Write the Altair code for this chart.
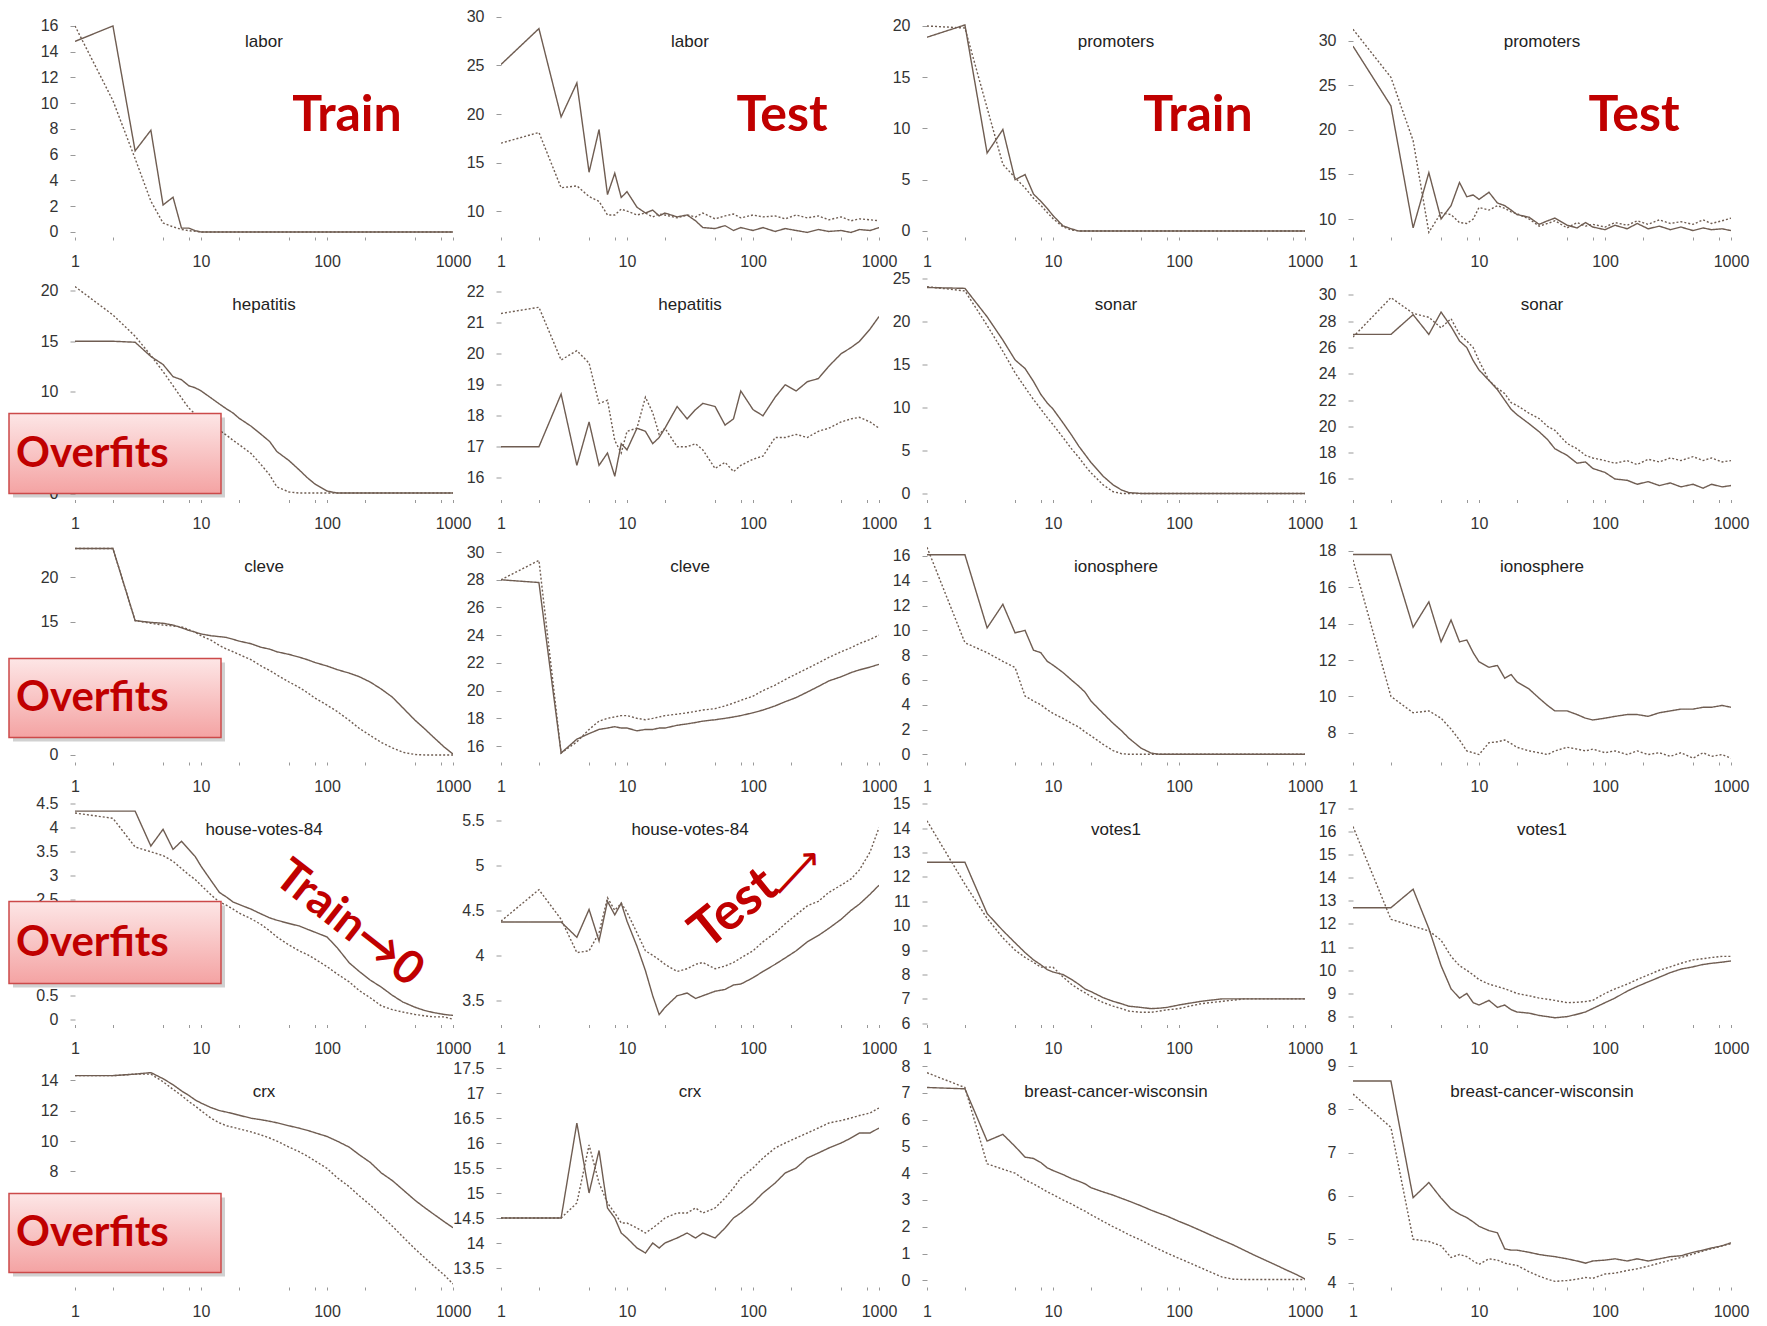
import altair as alt
import pandas as pd

# ---------------- data ----------------
X = [1, 2, 3, 4, 5, 6, 7, 8, 9, 10, 12, 14, 16, 18, 20, 25, 30, 35, 40, 50, 60, 70, 80,
     100, 120, 150, 180, 220, 270, 330, 400, 500, 600, 700, 850, 1000]
X_TICKS = [1, 2, 5, 8, 10, 20, 50, 80, 100, 200, 500, 800, 1000]

Z21 = [0] * 21

LABOR_TRAIN_A = [14.8, 16.0, 6.3, 7.9, 2.1, 2.7, 0.3, 0.3, 0.1, 0] + [0] * 26
LABOR_TRAIN_B = [16.0, 10.2, 5.7, 2.4, 0.7, 0.4, 0.2, 0.1, 0.05, 0] + [0] * 26
LABOR_TEST_A = [25.1, 28.8, 19.7, 23.2, 14.0, 18.4, 11.7, 13.9, 11.4, 12.0, 10.4, 9.8, 10.1, 9.5, 9.8,
                9.4, 9.6, 9.0, 8.3, 8.2, 8.5, 8.0, 8.3, 8.0, 8.3, 7.9, 8.2, 8.0, 7.8, 8.1, 7.9,
                8.0, 7.8, 8.1, 8.0, 8.3]
LABOR_TEST_B = [17.0, 18.1, 12.4, 12.6, 11.5, 11.0, 9.6, 9.6, 10.2, 10.0, 9.6, 9.8, 9.4, 9.7, 9.6,
                9.3, 9.6, 9.4, 9.8, 9.2, 9.5, 9.7, 9.3, 9.6, 9.4, 9.5, 9.2, 9.6, 9.3, 9.5, 9.1,
                9.4, 9.0, 9.2, 9.1, 9.0]
PROM_TRAIN_A = [18.9, 20.1, 7.6, 9.9, 5.0, 5.5, 3.6, 2.9, 2.2, 1.5, 0.5, 0.2, 0, 0, 0] + Z21
PROM_TRAIN_B = [20.0, 19.8, 12.0, 6.5, 5.2, 4.2, 3.2, 2.5, 1.8, 1.2, 0.4, 0.1, 0, 0, 0] + Z21
PROM_TEST_A = [29.4, 22.7, 9.0, 15.2, 10.0, 11.5, 14.1, 12.5, 12.7, 12.2, 13.0, 11.8, 11.5, 11.0, 10.5,
               10.2, 9.4, 9.8, 10.1, 9.3, 9.0, 9.6, 9.1, 8.8, 9.3, 8.9, 9.5, 8.9, 9.2, 8.8, 9.1,
               8.7, 9.0, 8.8, 8.9, 8.7]
PROM_TEST_B = [31.3, 25.9, 18.8, 8.5, 10.7, 10.5, 9.6, 9.5, 10.0, 11.3, 11.0, 11.5, 11.2, 10.8, 10.6,
               10.0, 9.2, 9.5, 9.8, 9.0, 9.6, 9.2, 9.4, 9.1, 9.6, 9.3, 9.8, 9.4, 9.9, 9.5, 9.7,
               9.4, 9.9, 9.5, 9.8, 10.1]

HEP_TRAIN_A = [15.0, 15.0, 14.9, 13.5, 12.7, 11.5, 11.2, 10.6, 10.4, 10.1, 9.4, 8.8, 8.3, 7.9, 7.4,
               6.6, 5.8, 5.1, 4.1, 3.2, 2.3, 1.5, 0.9, 0.2, 0] + [0] * 11
HEP_TRAIN_B = [20.4, 17.6, 15.5, 13.6, 12.0, 10.6, 9.4, 8.4, 7.8, 7.3, 6.7, 6.2, 5.7, 5.2, 4.8,
               3.9, 2.8, 1.8, 0.6, 0.1, 0] + [0] * 15
HEP_TEST_A = [17.0, 17.0, 18.7, 16.4, 17.8, 16.4, 16.8, 16.05, 17.1, 16.9, 17.6, 17.5, 17.1, 17.3, 17.6,
              18.3, 17.9, 18.2, 18.4, 18.3, 17.7, 17.9, 18.8, 18.2, 18.0, 18.6, 19.0, 18.8, 19.1,
              19.2, 19.6, 20.0, 20.2, 20.4, 20.8, 21.2]
HEP_TEST_B = [21.3, 21.5, 19.8, 20.1, 19.7, 18.4, 18.5, 17.2, 16.8, 17.5, 17.6, 18.6, 18.1, 17.4, 17.6,
              17.0, 17.0, 17.1, 16.9, 16.3, 16.5, 16.2, 16.4, 16.6, 16.7, 17.3, 17.3, 17.4, 17.3,
              17.5, 17.6, 17.8, 17.9, 17.95, 17.8, 17.6]
SONAR_TRAIN_A = [23.9, 23.8, 20.5, 17.8, 15.5, 14.5, 13.0, 11.5, 10.5, 9.8, 8.2, 6.8, 5.5, 4.5, 3.6,
                 2.0, 1.0, 0.4, 0.1, 0] + [0] * 16
SONAR_TRAIN_B = [24.0, 23.5, 19.5, 16.5, 14.0, 12.3, 10.9, 9.8, 8.8, 8.0, 6.5, 5.2, 4.2, 3.2, 2.4,
                 1.0, 0.2, 0] + [0] * 18
SONAR_TEST_A = [27.0, 27.0, 28.5, 27.0, 28.7, 27.6, 26.5, 26.0, 25.0, 24.3, 23.5, 22.8, 22.0, 21.3, 20.9,
                20.2, 19.6, 19.0, 18.3, 17.8, 17.2, 17.3, 16.8, 16.5, 16.0, 15.9, 15.6, 15.8, 15.5,
                15.7, 15.4, 15.6, 15.3, 15.6, 15.4, 15.5]
SONAR_TEST_B = [26.8, 29.8, 28.6, 28.3, 27.5, 28.2, 27.0, 26.5, 26.0, 25.0, 23.5, 22.9, 22.5, 21.8, 21.6,
                21.0, 20.6, 20.0, 19.7, 18.7, 18.3, 17.8, 17.6, 17.4, 17.2, 17.4, 17.1, 17.5, 17.3,
                17.6, 17.4, 17.7, 17.4, 17.6, 17.3, 17.4]

CLEVE_TRAIN_A = [23.2, 23.2, 15.1, 14.9, 14.8, 14.6, 14.3, 14.0, 13.8, 13.6, 13.4, 13.3, 13.2, 13.0, 12.8,
                 12.5, 12.1, 11.9, 11.6, 11.3, 11.0, 10.7, 10.4, 10.0, 9.6, 9.2, 8.8, 8.2, 7.4, 6.5,
                 5.3, 3.9, 2.9, 2.0, 0.9, 0.1]
CLEVE_TRAIN_B = [23.2, 23.2, 15.1, 14.8, 14.6, 14.5, 14.4, 14.1, 13.8, 13.4, 12.9, 12.3, 11.9, 11.6, 11.3,
                 10.7, 10.0, 9.5, 9.0, 8.2, 7.6, 7.0, 6.4, 5.6, 4.9, 3.9, 3.0, 2.2, 1.4, 0.8, 0.3,
                 0.05, 0, 0, 0, 0]
CLEVE_TEST_A = [28.0, 27.8, 15.5, 16.5, 16.9, 17.2, 17.3, 17.4, 17.3, 17.3, 17.1, 17.2, 17.2, 17.3, 17.3,
                17.5, 17.6, 17.7, 17.8, 17.9, 18.0, 18.1, 18.2, 18.4, 18.6, 18.9, 19.2, 19.5, 19.9,
                20.3, 20.7, 21.0, 21.3, 21.5, 21.7, 21.9]
CLEVE_TEST_B = [28.0, 29.4, 15.5, 16.3, 17.2, 17.8, 18.0, 18.1, 18.2, 18.2, 18.0, 17.9, 18.0, 18.1, 18.2,
                18.3, 18.4, 18.5, 18.6, 18.7, 18.9, 19.1, 19.3, 19.6, 20.0, 20.4, 20.8, 21.2, 21.6,
                22.0, 22.4, 22.8, 23.1, 23.4, 23.7, 24.0]
IONO_TRAIN_A = [16.1, 16.1, 10.2, 12.1, 9.8, 10.0, 8.4, 8.2, 7.5, 7.2, 6.6, 6.0, 5.5, 5.0, 4.3,
                3.3, 2.5, 1.9, 1.3, 0.5, 0.1, 0] + [0] * 14
IONO_TRAIN_B = [16.7, 9.0, 8.2, 7.5, 7.0, 4.7, 4.3, 4.0, 3.6, 3.3, 2.9, 2.5, 2.2, 1.8, 1.5,
                0.8, 0.3, 0.05, 0] + [0] * 17
IONO_TEST_A = [17.8, 17.8, 13.8, 15.2, 13.0, 14.2, 13.0, 13.1, 12.4, 11.9, 11.6, 11.7, 11.0, 11.2, 10.8,
               10.4, 9.9, 9.5, 9.2, 9.2, 9.0, 8.8, 8.7, 8.8, 8.9, 9.0, 9.0, 8.9, 9.1, 9.2, 9.3,
               9.3, 9.4, 9.4, 9.5, 9.4]
IONO_TEST_B = [17.5, 10.0, 9.1, 9.2, 8.8, 8.2, 7.6, 7.0, 6.9, 6.8, 7.45, 7.5, 7.6, 7.4, 7.2,
               7.0, 6.9, 6.8, 7.0, 7.2, 7.1, 7.0, 7.1, 6.9, 7.0, 6.8, 7.0, 6.8, 6.9, 6.7, 6.9,
               6.6, 6.9, 6.7, 6.8, 6.6]

HOUSE_TRAIN_A = [4.35, 4.35, 4.35, 3.62, 3.97, 3.55, 3.72, 3.55, 3.4, 3.2, 2.9, 2.65, 2.55, 2.45, 2.4,
                 2.3, 2.2, 2.12, 2.07, 2.0, 1.95, 1.88, 1.82, 1.72, 1.5, 1.18, 1.0, 0.82, 0.67, 0.5,
                 0.36, 0.25, 0.18, 0.14, 0.1, 0.08]
HOUSE_TRAIN_B = [4.31, 4.2, 3.6, 3.5, 3.42, 3.3, 3.15, 3.02, 2.92, 2.8, 2.6, 2.45, 2.38, 2.3, 2.22,
                 2.1, 1.98, 1.85, 1.72, 1.55, 1.43, 1.35, 1.26, 1.1, 0.95, 0.78, 0.6, 0.45, 0.28,
                 0.2, 0.15, 0.1, 0.07, 0.05, 0.05, 0.0]
HOUSE_TEST_A = [4.37, 4.37, 4.37, 4.2, 4.51, 4.16, 4.6, 4.45, 4.58, 4.38, 4.1, 3.83, 3.55, 3.34, 3.42,
                3.55, 3.58, 3.52, 3.55, 3.6, 3.62, 3.67, 3.68, 3.75, 3.82, 3.9, 3.97, 4.05, 4.15,
                4.22, 4.3, 4.4, 4.5, 4.57, 4.68, 4.78]
HOUSE_TEST_B = [4.38, 4.73, 4.4, 4.03, 4.05, 4.25, 4.64, 4.5, 4.58, 4.48, 4.25, 4.05, 4.0, 3.95, 3.9,
                3.82, 3.85, 3.9, 3.92, 3.85, 3.88, 3.92, 3.97, 4.05, 4.15, 4.25, 4.35, 4.45, 4.55,
                4.6, 4.7, 4.78, 4.85, 4.95, 5.15, 5.42]
VOTES_TRAIN_A = [12.6, 12.6, 10.5, 9.8, 9.3, 8.9, 8.6, 8.4, 8.2, 8.1, 8.0, 7.8, 7.6, 7.4, 7.3,
                 7.05, 6.9, 6.8, 6.7, 6.65, 6.6, 6.62, 6.65, 6.75, 6.82, 6.9, 6.95, 7.0, 7.0, 7.0,
                 7.0, 7.0, 7.0, 7.0, 7.0, 7.0]
VOTES_TRAIN_B = [14.3, 11.7, 10.3, 9.5, 9.0, 8.7, 8.5, 8.3, 8.3, 8.3, 7.9, 7.6, 7.4, 7.25, 7.1,
                 6.85, 6.7, 6.6, 6.5, 6.45, 6.45, 6.5, 6.55, 6.6, 6.7, 6.8, 6.85, 6.9, 6.95, 7.0,
                 7.0, 7.0, 7.0, 7.0, 7.0, 7.0]
VOTES_TEST_A = [12.7, 12.7, 13.5, 11.8, 10.2, 9.2, 8.8, 9.0, 8.6, 8.5, 8.7, 8.4, 8.5, 8.3, 8.2,
                8.15, 8.05, 8.0, 7.95, 8.0, 8.1, 8.2, 8.35, 8.6, 8.8, 9.1, 9.3, 9.5, 9.7, 9.9,
                10.05, 10.15, 10.25, 10.3, 10.35, 10.4]
VOTES_TEST_B = [16.2, 12.2, 11.9, 11.7, 11.3, 10.6, 10.2, 10.0, 9.8, 9.6, 9.4, 9.3, 9.2, 9.1, 9.0,
                8.9, 8.8, 8.75, 8.7, 8.6, 8.62, 8.65, 8.7, 9.0, 9.2, 9.4, 9.6, 9.8, 10.0, 10.15,
                10.3, 10.45, 10.5, 10.55, 10.6, 10.6]

CRX_TRAIN_A = [14.3, 14.3, 14.4, 14.5, 14.1, 13.7, 13.3, 13.0, 12.7, 12.5, 12.2, 12.0, 11.9, 11.8, 11.7,
               11.5, 11.4, 11.3, 11.2, 11.0, 10.85, 10.7, 10.55, 10.3, 10.0, 9.6, 9.1, 8.6, 7.9,
               7.4, 6.8, 6.1, 5.6, 5.2, 4.7, 4.3]
CRX_TRAIN_B = [14.3, 14.3, 14.4, 14.4, 13.9, 13.4, 13.0, 12.6, 12.3, 12.0, 11.5, 11.2, 11.0, 10.9, 10.8,
               10.6, 10.4, 10.2, 10.0, 9.6, 9.3, 9.0, 8.7, 8.2, 7.6, 7.0, 6.4, 5.8, 5.1, 4.4,
               3.7, 2.9, 2.3, 1.8, 1.2, 0.6]
CRX_TEST_A = [14.5, 14.5, 14.5, 16.4, 15.0, 15.85, 14.7, 14.5, 14.2, 14.1, 13.9, 13.8, 14.0, 13.9, 14.0,
              14.1, 14.2, 14.1, 14.2, 14.1, 14.3, 14.5, 14.6, 14.8, 15.0, 15.2, 15.4, 15.5, 15.7,
              15.8, 15.9, 16.0, 16.1, 16.2, 16.2, 16.3]
CRX_TEST_B = [14.5, 14.5, 14.5, 14.8, 15.96, 15.2, 14.8, 14.6, 14.4, 14.4, 14.3, 14.2, 14.3, 14.4, 14.5,
              14.6, 14.6, 14.7, 14.6, 14.7, 14.9, 15.1, 15.3, 15.5, 15.7, 15.9, 16.0, 16.1, 16.2,
              16.3, 16.4, 16.45, 16.5, 16.55, 16.6, 16.7]
BCW_TRAIN_A = [7.2, 7.15, 5.2, 5.45, 5.0, 4.6, 4.55, 4.4, 4.2, 4.1, 3.95, 3.8, 3.7, 3.6, 3.46,
               3.3, 3.18, 3.06, 2.96, 2.78, 2.62, 2.5, 2.4, 2.2, 2.05, 1.85, 1.68, 1.5, 1.32, 1.12,
               0.93, 0.72, 0.55, 0.4, 0.22, 0.05]
BCW_TRAIN_B = [7.75, 7.2, 4.35, 4.15, 4.0, 3.75, 3.6, 3.45, 3.3, 3.2, 3.0, 2.85, 2.7, 2.58, 2.45,
               2.2, 2.0, 1.85, 1.7, 1.5, 1.3, 1.15, 1.02, 0.82, 0.66, 0.46, 0.3, 0.12, 0.04, 0.03,
               0.03, 0.03, 0.03, 0.03, 0.03, 0.03]
BCW_TEST_A = [8.65, 8.65, 5.96, 6.31, 5.95, 5.7, 5.58, 5.5, 5.4, 5.3, 5.2, 5.15, 4.78, 4.75, 4.75,
              4.7, 4.65, 4.62, 4.6, 4.55, 4.5, 4.45, 4.5, 4.52, 4.55, 4.5, 4.55, 4.5, 4.55, 4.6,
              4.62, 4.7, 4.75, 4.8, 4.85, 4.92]
BCW_TEST_B = [8.35, 7.58, 5.0, 4.95, 4.85, 4.58, 4.65, 4.6, 4.5, 4.42, 4.55, 4.52, 4.45, 4.42, 4.4,
              4.25, 4.15, 4.08, 4.03, 4.05, 4.08, 4.12, 4.1, 4.2, 4.22, 4.28, 4.32, 4.38, 4.45,
              4.52, 4.58, 4.66, 4.73, 4.78, 4.85, 4.9]

# y tick labels visible in the reference (those hidden under the "Overfits" boxes omitted)
TICKS_LABOR_TRAIN = [0, 2, 4, 6, 8, 10, 12, 14, 16]
TICKS_LABOR_TEST = [10, 15, 20, 25, 30]
TICKS_PROM_TRAIN = [0, 5, 10, 15, 20]
TICKS_PROM_TEST = [10, 15, 20, 25, 30]
TICKS_HEP_TRAIN = [0, 10, 15, 20]
TICKS_HEP_TEST = [16, 17, 18, 19, 20, 21, 22]
TICKS_SONAR_TRAIN = [0, 5, 10, 15, 20, 25]
TICKS_SONAR_TEST = [16, 18, 20, 22, 24, 26, 28, 30]
TICKS_CLEVE_TRAIN = [0, 15, 20]
TICKS_CLEVE_TEST = [16, 18, 20, 22, 24, 26, 28, 30]
TICKS_IONO_TRAIN = [0, 2, 4, 6, 8, 10, 12, 14, 16]
TICKS_IONO_TEST = [8, 10, 12, 14, 16, 18]
TICKS_HOUSE_TRAIN = [0, 0.5, 2.5, 3, 3.5, 4, 4.5]
TICKS_HOUSE_TEST = [3.5, 4, 4.5, 5, 5.5]
TICKS_VOTES_TRAIN = [6, 7, 8, 9, 10, 11, 12, 13, 14, 15]
TICKS_VOTES_TEST = [8, 9, 10, 11, 12, 13, 14, 15, 16, 17]
TICKS_CRX_TRAIN = [8, 10, 12, 14]
TICKS_CRX_TEST = [13.5, 14, 14.5, 15, 15.5, 16, 16.5, 17, 17.5]
TICKS_BCW_TRAIN = [0, 1, 2, 3, 4, 5, 6, 7, 8]
TICKS_BCW_TEST = [4, 5, 6, 7, 8, 9]

# title, solid, dotted, y-domain, y-ticks
PANELS = [
    ("labor", LABOR_TRAIN_A, LABOR_TRAIN_B, [-0.39, 16.85], TICKS_LABOR_TRAIN),
    ("labor", LABOR_TEST_A, LABOR_TEST_B, [7.33, 30.2], TICKS_LABOR_TEST),
    ("promoters", PROM_TRAIN_A, PROM_TRAIN_B, [-0.59, 21.07], TICKS_PROM_TRAIN),
    ("promoters", PROM_TEST_A, PROM_TEST_B, [7.98, 32.9], TICKS_PROM_TEST),
    ("hepatitis", HEP_TRAIN_A, HEP_TRAIN_B, [-0.64, 21.3], TICKS_HEP_TRAIN),
    ("hepatitis", HEP_TEST_A, HEP_TEST_B, [15.3, 22.46], TICKS_HEP_TEST),
    ("sonar", SONAR_TRAIN_A, SONAR_TRAIN_B, [-0.7, 25.06], TICKS_SONAR_TRAIN),
    ("sonar", SONAR_TEST_A, SONAR_TEST_B, [14.44, 31.33], TICKS_SONAR_TEST),
    ("cleve", CLEVE_TRAIN_A, CLEVE_TRAIN_B, [-0.79, 24.16], TICKS_CLEVE_TRAIN),
    ("cleve", CLEVE_TEST_A, CLEVE_TEST_B, [14.85, 30.87], TICKS_CLEVE_TEST),
    ("ionosphere", IONO_TRAIN_A, IONO_TRAIN_B, [-0.62, 17.29], TICKS_IONO_TRAIN),
    ("ionosphere", IONO_TEST_A, IONO_TEST_B, [6.39, 18.6], TICKS_IONO_TEST),
    ("house-votes-84", HOUSE_TRAIN_A, HOUSE_TRAIN_B, [-0.11, 4.53], TICKS_HOUSE_TRAIN),
    ("house-votes-84", HOUSE_TEST_A, HOUSE_TEST_B, [3.23, 5.7], TICKS_HOUSE_TEST),
    ("votes1", VOTES_TRAIN_A, VOTES_TRAIN_B, [5.95, 15.05], TICKS_VOTES_TRAIN),
    ("votes1", VOTES_TEST_A, VOTES_TEST_B, [7.66, 17.24], TICKS_VOTES_TEST),
    ("crx", CRX_TRAIN_A, CRX_TRAIN_B, [0.4, 15.0], TICKS_CRX_TRAIN),
    ("crx", CRX_TEST_A, CRX_TEST_B, [13.12, 17.56], TICKS_CRX_TEST),
    ("breast-cancer-wisconsin", BCW_TRAIN_A, BCW_TRAIN_B, [-0.25, 8.04], TICKS_BCW_TRAIN),
    ("breast-cancer-wisconsin", BCW_TEST_A, BCW_TEST_B, [3.9, 9.02], TICKS_BCW_TEST),
]

# ---------------- styling ----------------
W, H = 378, 222
RED = "#c00000"
LINE = "#6f5d52"
TICK_FONT = "Liberation Sans"
BIG_FONT = "Lato"

BIG_LABELS = {0: "Train", 1: "Test", 2: "Train", 3: "Test"}
BIG_LABEL_X = {0: 272, 1: 281, 2: 271, 3: 281}
OVERFIT_ROWS = {4: (136, 216), 8: (118.5, 197.5), 12: (99, 181), 16: (128.5, 207.5)}


def text_layer(txt, x, y, **kw):
    return alt.Chart(pd.DataFrame({"t": [txt]})).mark_text(**kw).encode(
        text="t:N", x=alt.value(x), y=alt.value(y))


def make_panel(i, title, a, b, dom, ticks):
    df = pd.DataFrame({
        "x": X + X,
        "v": a + b,
        "s": ["solid"] * len(X) + ["dotted"] * len(X),
    })
    x_enc = alt.X(
        "x:Q", title=None,
        scale=alt.Scale(type="log", domain=[1, 1000]),
        axis=alt.Axis(values=X_TICKS, format="d", labelOverlap=False, labelFlush=False,
                      labelExpr="(datum.value == 1 || datum.value == 10 || datum.value == 100 || datum.value == 1000) ? datum.label : ''",
                      tickSize=3, labelPadding=13),
    )
    y_enc = alt.Y(
        "v:Q", title=None,
        scale=alt.Scale(domain=dom, nice=False, zero=False),
        axis=alt.Axis(values=ticks, labelExpr="toString(datum.value)", labelOverlap=False,
                      tickSize=5, labelPadding=12),
    )
    lines = alt.Chart(df).mark_line(strokeWidth=1.4, color=LINE, clip=True).encode(
        x=x_enc, y=y_enc,
        strokeDash=alt.StrokeDash("s:N", legend=None,
                                  scale=alt.Scale(domain=["solid", "dotted"], range=[[1, 0], [2, 2]])),
    )
    layers = [lines,
              text_layer(title, W / 2, 27, font=TICK_FONT, fontSize=17, color="#222",
                         align="center", baseline="middle")]

    if i in BIG_LABELS:
        layers.append(text_layer(BIG_LABELS[i], BIG_LABEL_X[i], 101, font=BIG_FONT, fontSize=50,
                                 fontWeight="bold", color=RED, align="center", baseline="middle"))
    if i in OVERFIT_ROWS:
        y0, y1 = OVERFIT_ROWS[i]
        one = pd.DataFrame({"k": [0]})
        shadow = alt.Chart(one).mark_rect(fill="#000000", opacity=0.18).encode(
            x=alt.value(-62), x2=alt.value(150), y=alt.value(y0 + 4), y2=alt.value(y1 + 4))
        box = alt.Chart(one).mark_rect(
            fill=alt.LinearGradient(gradient="linear", x1=0, x2=0, y1=0, y2=1,
                                    stops=[alt.GradientStop(color="#fde6e6", offset=0),
                                           alt.GradientStop(color="#f4a3a3", offset=1)]),
            stroke="#cc4a4a", strokeWidth=1.5,
        ).encode(x=alt.value(-66), x2=alt.value(146), y=alt.value(y0), y2=alt.value(y1))
        label = text_layer("Overfits", -59, (y0 + y1) / 2, font=BIG_FONT, fontSize=42,
                           fontWeight="bold", color=RED, align="left", baseline="middle")
        layers += [shadow, box, label]
    if i == 12:
        layers.append(text_layer("Train→0", 274, 121, font=BIG_FONT, fontSize=46, fontWeight="bold",
                                 color=RED, align="center", baseline="middle", angle=38))
    if i == 13:
        layers.append(text_layer("Test", 233, 106, font=BIG_FONT, fontSize=52, fontWeight="bold",
                                 color=RED, align="center", baseline="middle", angle=321))
        layers.append(text_layer("⟶", 296, 71, font="DejaVu Sans", fontSize=40,
                                 color=RED, align="center", baseline="middle", angle=313))
    return alt.layer(*layers).properties(width=W, height=H)


panels = [make_panel(i, *p) for i, p in enumerate(PANELS)]

chart = alt.concat(*panels, columns=4, spacing={"row": 40.5, "column": 48}, bounds="flush").resolve_scale(
    x="independent", y="independent"
).properties(
    padding={"left": 0, "top": 0, "right": 5, "bottom": 5}
).configure_view(stroke=None).configure_axis(
    domain=False, grid=False, labelFont=TICK_FONT, labelFontSize=16, labelColor="#333",
    tickColor="#999", tickWidth=1,
)

chart.save("out.html", embed_options={"renderer": "svg", "actions": False})
